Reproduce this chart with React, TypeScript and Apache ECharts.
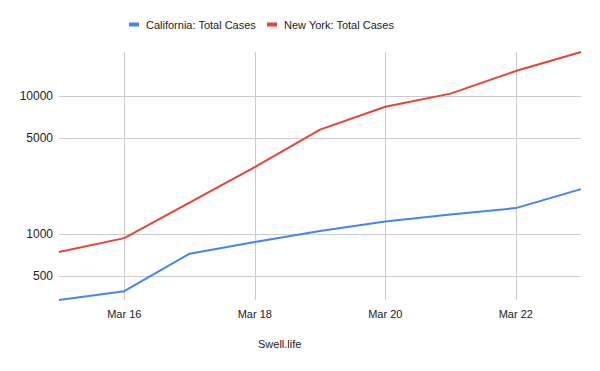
import React, { useEffect, useRef } from "react";
import * as echarts from "echarts";

const categories = ["Mar 15", "Mar 16", "Mar 17", "Mar 18", "Mar 19", "Mar 20", "Mar 21", "Mar 22", "Mar 23"];
const californiaCases = [335, 388, 725, 880, 1057, 1242, 1396, 1551, 2128];
const newYorkCases = [745, 940, 1700, 3077, 5740, 8410, 10460, 15240, 20940];
const yTickValues = [500, 1000, 5000, 10000];

const FONT = "'Liberation Sans', Arial, sans-serif";

export default function App() {
  const ref = useRef<HTMLDivElement>(null);

  useEffect(() => {
    if (!ref.current) return;
    const chart = echarts.init(ref.current, undefined, { renderer: "svg" });
    const all = [...californiaCases, ...newYorkCases];
    const lmin = Math.log10(Math.min(...all));
    const lmax = Math.log10(Math.max(...all));
    const tickLogs = yTickValues.map((v) => Math.log10(v));

    chart.setOption({
      animation: false,
      textStyle: { fontFamily: FONT },
      legend: {
        top: 19,
        left: 129,
        padding: 0,
        icon: "rect",
        itemWidth: 10,
        itemHeight: 4,
        itemGap: 11,
        textStyle: { fontSize: 11, color: "#222", fontFamily: FONT, padding: [0, 0, 0, 2] },
        data: ["California: Total Cases", "New York: Total Cases"],
      },
      grid: { left: 59, right: 19, top: 52, bottom: 71, containLabel: false },
      xAxis: {
        type: "category",
        data: categories,
        boundaryGap: false,
        axisLine: { show: false },
        axisTick: { show: false },
        axisLabel: {
          interval: (i: number) => i % 2 === 1,
          color: "#222",
          fontSize: 11,
          fontFamily: FONT,
          margin: 8,
        },
        splitLine: {
          show: true,
          interval: (i: number) => i % 2 === 1,
          lineStyle: { color: "#cccccc", width: 1 },
        },
      },
      yAxis: {
        type: "value",
        min: lmin,
        max: lmax,
        axisLine: { show: false },
        axisTick: { show: false, customValues: tickLogs },
        axisLabel: {
          customValues: tickLogs,
          formatter: (v: number) => String(Math.round(Math.pow(10, v))),
          color: "#222",
          fontSize: 12,
          fontFamily: FONT,
          margin: 6,
        },
        splitLine: { show: true, lineStyle: { color: "#cccccc", width: 1 } },
      },
      graphic: [
        {
          type: "text",
          left: 258,
          top: 338,
          style: { text: "Swell.life", fontSize: 11, fill: "#222", fontFamily: FONT },
        },
      ],
      series: [
        {
          name: "California: Total Cases",
          type: "line",
          data: californiaCases.map((v) => Math.log10(v)),
          showSymbol: false,
          symbol: "none",
          lineStyle: { color: "#4285f4", width: 2 },
          itemStyle: { color: "#4285f4" },
        },
        {
          name: "New York: Total Cases",
          type: "line",
          data: newYorkCases.map((v) => Math.log10(v)),
          showSymbol: false,
          symbol: "none",
          lineStyle: { color: "#ea4335", width: 2 },
          itemStyle: { color: "#ea4335" },
        },
      ],
    });

    return () => chart.dispose();
  }, []);

  return <div ref={ref} style={{ width: 600, height: 371, position: "absolute", left: 0, top: 0 }} />;
}
